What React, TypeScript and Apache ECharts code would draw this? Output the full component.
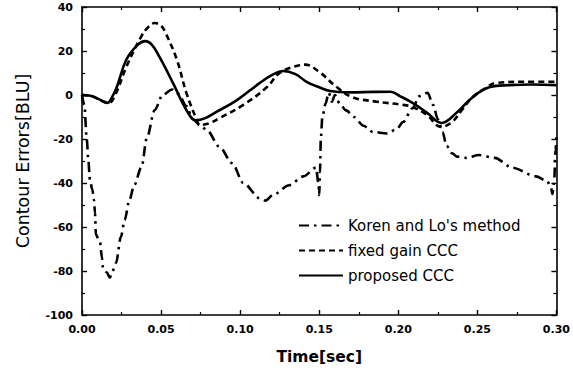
import React, { useEffect, useRef } from "react";
import * as echarts from "echarts";

const korenTime = [0, 0.0015, 0.003, 0.004, 0.005, 0.0065, 0.0076, 0.0082, 0.0088, 0.0114, 0.0126, 0.0133, 0.0155, 0.0177, 0.019, 0.0215, 0.0246, 0.027, 0.03, 0.033, 0.0377, 0.041, 0.046, 0.051, 0.057, 0.061, 0.066, 0.07, 0.075, 0.079, 0.087, 0.095, 0.102, 0.1125, 0.116, 0.1207, 0.131, 0.14, 0.148, 0.1495, 0.15, 0.1505, 0.151, 0.152, 0.154, 0.156, 0.158, 0.16, 0.163, 0.167, 0.172, 0.178, 0.184, 0.193, 0.199, 0.203, 0.209, 0.2135, 0.2186, 0.222, 0.225, 0.228, 0.2305, 0.234, 0.237, 0.243, 0.251, 0.261, 0.272, 0.287, 0.294, 0.2965, 0.2975, 0.2985, 0.2995, 0.3];
const korenValue = [0, -4.5, -20, -29.5, -38.6, -43, -47.7, -53.6, -63.6, -67, -74, -78.6, -80.5, -83, -80.5, -76.4, -64.5, -56.8, -47.7, -41, -32.6, -19.5, -6.8, 0, 2.5, 0.5, -5, -11, -14, -16, -23.6, -31, -40, -47, -48, -45.5, -41, -37, -33, -40, -45.5, -35, -20, -10, -4, 1, -3, 0, -4, -7, -10, -14, -16.8, -17.5, -15.5, -12.3, -6, -0.5, 1, -4.5, -11, -16.8, -23, -26.5, -28, -28.6, -27.3, -28.6, -33, -37, -39, -42, -45, -40, -25, -18];

const fixedTime = [0, 0.006, 0.012, 0.017, 0.021, 0.028, 0.037, 0.042, 0.046, 0.05, 0.053, 0.06, 0.066, 0.0726, 0.0745, 0.08, 0.087, 0.102, 0.117, 0.125, 0.138, 0.141, 0.15, 0.161, 0.171, 0.186, 0.203, 0.209, 0.218, 0.227, 0.234, 0.24, 0.247, 0.255, 0.262, 0.28, 0.3];
const fixedValue = [0, -0.5, -2.5, -3.6, 0, 12.7, 26, 31, 32.7, 31.5, 28, 16, 1, -11.4, -13.6, -13, -10.5, -4.5, 3.6, 10, 13.6, 13.8, 10.5, 3.6, -1, -3, -4.5, -5.5, -9, -14.5, -12.3, -7, -1, 3, 5.5, 6, 6];

const proposedTime = [0, 0.006, 0.011, 0.016, 0.019, 0.022, 0.028, 0.035, 0.04, 0.044, 0.049, 0.0575, 0.066, 0.072, 0.078, 0.085, 0.098, 0.1125, 0.12, 0.127, 0.135, 0.142, 0.15, 0.157, 0.169, 0.184, 0.195, 0.201, 0.209, 0.218, 0.2274, 0.237, 0.247, 0.258, 0.27, 0.285, 0.3];
const proposedValue = [0, -0.5, -2, -3.6, -1, 3.6, 16, 22.7, 24.5, 23, 17.3, 5.5, -6.8, -11.5, -10.5, -7.7, -2.3, 5.5, 9, 10.9, 9.5, 6, 3.5, 1.8, 1.2, 1.4, 1.5, -0.5, -3.6, -8, -12.7, -8, -1, 3.6, 4.5, 4.8, 4.5];

const seriesNames = ["Koren and Lo's method", "fixed gain CCC", "proposed CCC"];
const xTicks = { min: 0, max: 0.3, interval: 0.05 };
const yTicks = { min: -100, max: 40, interval: 20 };

const pair = (t: number[], v: number[]) => t.map((x, i) => [x, v[i]]);

export default function App() {
  const ref = useRef<HTMLDivElement>(null);
  useEffect(() => {
    if (!ref.current) return;
    const chart = echarts.init(ref.current, null, { renderer: "svg" });
    const axisLine = { show: true, onZero: false, lineStyle: { color: "#000", width: 1.6 } };
    const axisTick = { show: true, inside: true, length: 5, lineStyle: { color: "#000", width: 1.4 } };
    const minorTick = { show: true, splitNumber: 2, length: 3, lineStyle: { color: "#000", width: 1.2 } };
    const labelStyle = { color: "#000", fontFamily: "DejaVu Sans", fontWeight: "bold" as const, fontSize: 11 };
    const xBase = { type: "value" as const, ...xTicks, axisLine, axisTick, minorTick, splitLine: { show: false } };
    const yBase = { type: "value" as const, ...yTicks, axisLine, axisTick, minorTick, splitLine: { show: false } };
    chart.setOption({
      animation: false,
      backgroundColor: "#fff",
      grid: { left: 82, right: 16, top: 7, bottom: 54 },
      legend: {
        orient: "vertical",
        left: 298,
        top: 218,
        padding: 0,
        itemWidth: 44,
        itemHeight: 14,
        itemGap: 10,
        data: seriesNames,
        itemStyle: { opacity: 0 },
        textStyle: { color: "#000", fontFamily: "DejaVu Sans", fontSize: 15 },
      },
      xAxis: [
        {
          ...xBase,
          position: "bottom",
          name: "Time[sec]",
          nameLocation: "middle",
          nameGap: 34,
          nameTextStyle: { color: "#000", fontFamily: "DejaVu Sans", fontWeight: "bold", fontSize: 15.5 },
          axisLabel: { ...labelStyle, margin: 9, formatter: (v: number) => v.toFixed(2) },
        },
        { ...xBase, position: "top", axisLabel: { show: false } },
      ],
      yAxis: [
        {
          ...yBase,
          position: "left",
          name: "Contour Errors[BLU]",
          nameLocation: "middle",
          nameGap: 50,
          nameTextStyle: { color: "#000", fontFamily: "DejaVu Sans", fontSize: 17.5 },
          axisLabel: { ...labelStyle, margin: 9 },
        },
        { ...yBase, position: "right", axisLabel: { show: false } },
      ],
      series: [
        {
          name: seriesNames[0],
          type: "line",
          data: pair(korenTime, korenValue),
          symbol: "none",
          smooth: 0.3,
          smoothMonotone: "x",
          lineStyle: { color: "#000", width: 2.6, type: [10, 5, 2.5, 5] },
          itemStyle: { color: "#000" },
        },
        {
          name: seriesNames[1],
          type: "line",
          data: pair(fixedTime, fixedValue),
          symbol: "none",
          smooth: 0.4,
          lineStyle: { color: "#000", width: 2.6, type: [6, 4] },
          itemStyle: { color: "#000" },
        },
        {
          name: seriesNames[2],
          type: "line",
          data: pair(proposedTime, proposedValue),
          symbol: "none",
          smooth: 0.4,
          lineStyle: { color: "#000", width: 2.6, type: "solid" },
          itemStyle: { color: "#000" },
        },
      ],
    });
    return () => chart.dispose();
  }, []);
  return <div ref={ref} style={{ position: "fixed", left: 0, top: 0, width: 573, height: 370 }} />;
}
